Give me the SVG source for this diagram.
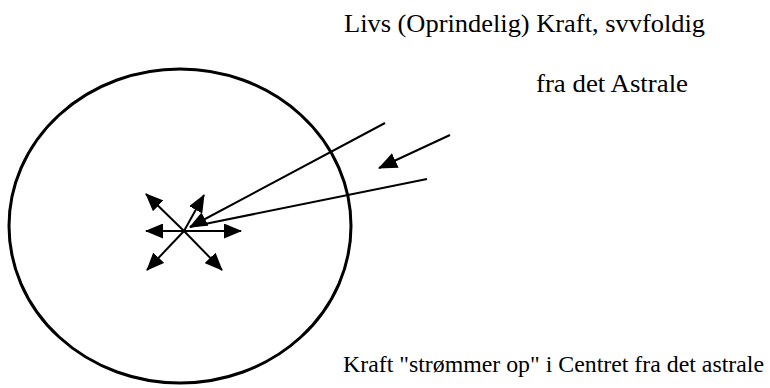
<svg xmlns="http://www.w3.org/2000/svg" width="770" height="388" viewBox="0 0 770 388">
<style>
text{font-family:"Liberation Serif","Times New Roman",serif;font-size:26px;fill:#000}
text.b{font-size:24px}
.ln{stroke:#000;stroke-width:2;fill:none}
</style>
<defs>
<marker id="ah" viewBox="0 0 18 15" refX="17" refY="7.5" markerWidth="9" markerHeight="7.5" orient="auto" markerUnits="strokeWidth"><path d="M0,0 L18,7.5 L0,15 z" fill="#000"/></marker>
<marker id="ahL" viewBox="0 0 19 16" refX="18" refY="8" markerWidth="9.5" markerHeight="8" orient="auto" markerUnits="strokeWidth"><path d="M0,0 L19,8 L0,16 z" fill="#000"/></marker>
</defs>
<rect width="770" height="388" fill="#fff"/>
<g id="circle"><ellipse cx="180" cy="226" rx="171" ry="157" fill="none" stroke="#000" stroke-width="3"/></g>
<g id="labels">
<text x="344" y="32" textLength="361" lengthAdjust="spacingAndGlyphs">Livs (Oprindelig) Kraft, svvfoldig</text>
<text x="536" y="92" textLength="152" lengthAdjust="spacingAndGlyphs">fra det Astrale</text>
<text class="b" x="343" y="372" textLength="421" lengthAdjust="spacingAndGlyphs">Kraft "strømmer op" i Centret fra det astrale</text>
</g>
<g id="connectors">
<line class="ln" x1="385" y1="123" x2="190" y2="227" marker-end="url(#ah)"/>
<line class="ln" x1="427" y1="179" x2="190" y2="227"/>
<line class="ln" x1="450" y1="135" x2="379" y2="168" marker-end="url(#ahL)"/>
<line class="ln" x1="184" y1="231" x2="146" y2="194" marker-end="url(#ah)"/>
<line class="ln" x1="184" y1="231" x2="204" y2="195" marker-end="url(#ah)"/>
<line class="ln" x1="184" y1="231" x2="146" y2="231" marker-end="url(#ah)"/>
<line class="ln" x1="184" y1="231" x2="241" y2="231" marker-end="url(#ah)"/>
<line class="ln" x1="184" y1="231" x2="147" y2="270" marker-end="url(#ah)"/>
<line class="ln" x1="184" y1="231" x2="222" y2="270" marker-end="url(#ah)"/>
</g>
</svg>
